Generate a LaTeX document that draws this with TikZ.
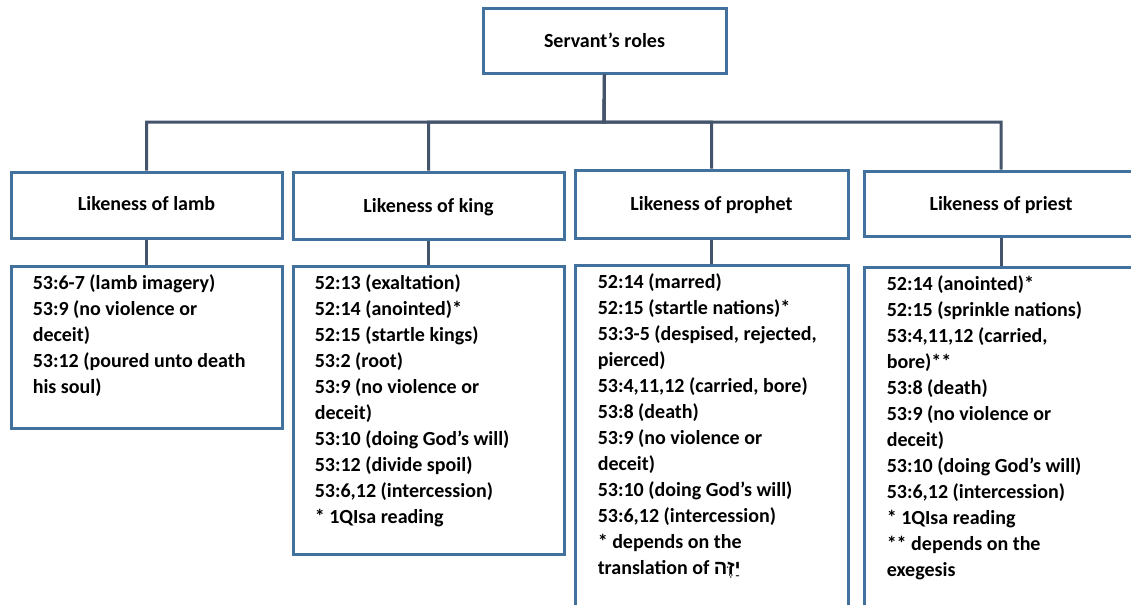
\documentclass[tikz,border=0pt]{standalone}
\usepackage{fontspec}
\setmainfont{Carlito}
\newfontfamily\hebfont[Script=Hebrew]{Liberation Sans}
\TeXXeTstate=1
\usetikzlibrary{fit,calc}
\definecolor{boxblue}{RGB}{65,113,156}
\definecolor{linkgray}{RGB}{68,84,106}

\begin{document}
\begin{tikzpicture}[x=0.75pt,y=-0.75pt,
  box/.style={draw=boxblue, line width=2.25pt, fill=white, inner sep=0pt},
  link/.style={draw=linkgray, line width=2.25pt},
  heading/.style={font=\fontsize{15}{19.5}\selectfont\bfseries, inner sep=0pt,
    text height=10pt, text depth=0pt, anchor=center},
  detail/.style={font=\fontsize{15}{19.5}\selectfont\bfseries, align=left,
    inner sep=0pt, anchor=north west}]

\useasboundingbox (0,0) rectangle (1131,604);
\clip (0,0) rectangle (1131,604);

% root
\node[box, fit={(483,8)(726,73)}] (top) {};
\coordinate (bus) at (604,122);

% second level
\node[box, fit={(11,172)(282,238)}]   (lamb)    {};
\node[box, fit={(293,172)(564,239)}]  (king)    {};
\node[box, fit={(575,170)(848,238)}]  (prophet) {};
\node[box, fit={(864,171)(1138,236)}] (priest)  {};

% reference lists
\node[box, fit={(11,266)(282,428)}]   (lambd)    {};
\node[box, fit={(293,266)(564,554)}]  (kingd)    {};
\node[box, fit={(575,265)(848,615)}]  (prophetd) {};
\node[box, fit={(864,267)(1138,615)}] (priestd)  {};

% headings
\node[heading] (toph)     at ($(top.center)+(0,0)$)      {Servant’s roles};
\node[heading] (lambh)    at ($(lamb.center)+(0,-1)$)    {Likeness of lamb};
\node[heading] (kingh)    at ($(king.center)+(0,0)$)     {Likeness of king};
\node[heading] (prophh)   at ($(prophet.center)+(0,0)$)  {Likeness of prophet};
\node[heading] (priesth)  at ($(priest.center)+(0,0)$)   {Likeness of priest};

% tree connectors
\draw[link] (top.south) -- (bus) -| (lamb.north);
\draw[link] (top.south) -- (bus) -| (king.north);
\draw[link] (top.south) -- (bus) -| (prophet.north);
\draw[link] (top.south) -- (bus) -| (priest.north);
\draw[link] (lamb.south) -- (lambd.north);
\draw[link] (king.south) -- (kingd.north);
\draw[link] (prophet.south) -- (prophetd.north);
\draw[link] (priest.south) -- (priestd.north);

\node[detail] (lambt) at ($(lambd.north west)+(23,10)$) {%
53:6-7 (lamb imagery)\\
53:9 (no violence or\\
deceit)\\
53:12 (poured unto death\\
his soul)};

\node[detail] (kingt) at ($(kingd.north west)+(23,10)$) {%
52:13 (exaltation)\\
52:14 (anointed)*\\
52:15 (startle kings)\\
53:2 (root)\\
53:9 (no violence or\\
deceit)\\
53:10 (doing God’s will)\\
53:12 (divide spoil)\\
53:6,12 (intercession)\\
* 1QIsa reading};

\node[detail] (prophett) at ($(prophetd.north west)+(24,10)$) {%
52:14 (marred)\\
52:15 (startle nations)*\\
53:3-5 (despised, rejected,\\
pierced)\\
53:4,11,12 (carried, bore)\\
53:8 (death)\\
53:9 (no violence or\\
deceit)\\
53:10 (doing God’s will)\\
53:6,12 (intercession)\\
* depends on the\\
translation of {\hebfont\beginR יַזֶּה\endR}};

\node[detail] (priestt) at ($(priestd.north west)+(24,10)$) {%
52:14 (anointed)*\\
52:15 (sprinkle nations)\\
53:4,11,12 (carried,\\
bore)**\\
53:8 (death)\\
53:9 (no violence or\\
deceit)\\
53:10 (doing God’s will)\\
53:6,12 (intercession)\\
* 1QIsa reading\\
** depends on the\\
exegesis};
\end{tikzpicture}
\end{document}
